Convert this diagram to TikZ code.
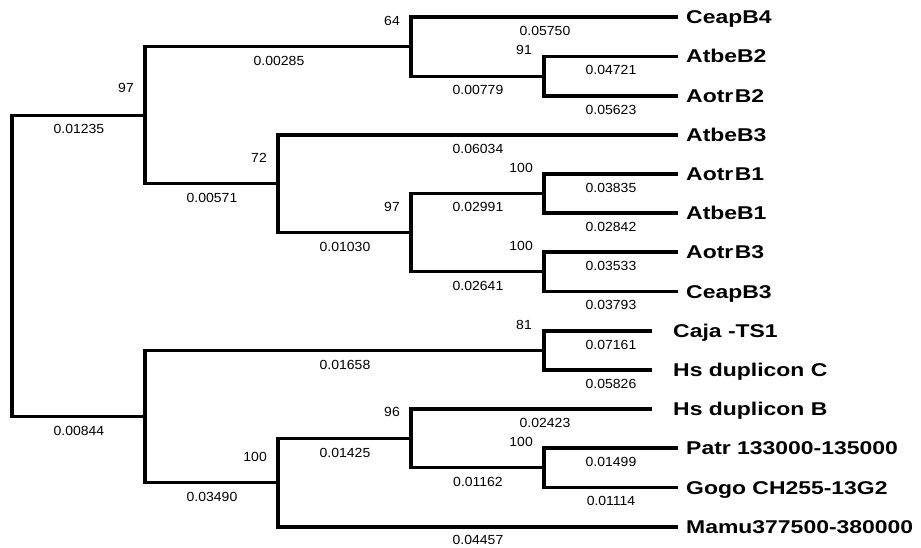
\documentclass[tikz,border=0pt]{standalone}
\usepackage{fontspec}
\setmainfont{Liberation Sans}
\newfontfamily\numfont{Liberation Sans}[FakeStretch=1.06]
\newfontfamily\leaffont{Liberation Sans Bold}[FakeStretch=1.24]
\begin{document}
\begin{tikzpicture}[x=1pt,y=-1pt,
  branch/.style={line width=3.3pt, line join=miter},
  taxon/.style={anchor=base west, inner sep=0pt, font=\leaffont\fontsize{18.5}{20}\selectfont},
  blen/.style={inner sep=0pt, font=\numfont\fontsize{13.2}{15}\selectfont},
  boot/.style={anchor=east, inner sep=0pt, font=\numfont\fontsize{13.2}{15}\selectfont}]
\fill[white] (0,0) rectangle (921,548);
\useasboundingbox (0,0) rectangle (921,548);

% ---- tips of the terminal branches
\coordinate (tCeapB4) at (678,17);
\coordinate (tAtbeB2) at (678,56.5);
\coordinate (tAotrB2) at (678,96);
\coordinate (tAtbeB3) at (678,135);
\coordinate (tAotrB1) at (678,174);
\coordinate (tAtbeB1) at (678,213);
\coordinate (tAotrB3) at (678,252);
\coordinate (tCeapB3) at (678,291.5);
\coordinate (tCaja)   at (652,331);
\coordinate (tHsC)    at (652,370);
\coordinate (tHsB)    at (652,409);
\coordinate (tPatr)   at (678,448);
\coordinate (tGogo)   at (678,487.5);
\coordinate (tMamu)   at (678,527);

% ---- internal nodes
\coordinate (nAB2)  at (544,76.25);
\coordinate (nC4)   at (411,46.6);
\coordinate (nAB1)  at (544,193.5);
\coordinate (nAB3)  at (544,271.75);
\coordinate (nB13)  at (411,232.6);
\coordinate (nB3)   at (278,183.8);
\coordinate (nTop)  at (145,115.2);
\coordinate (nCC)   at (544,350.5);
\coordinate (nPG)   at (544,467.75);
\coordinate (nHB)   at (411,438.4);
\coordinate (nMM)   at (278,482.7);
\coordinate (nBot)  at (145,416.6);
\coordinate (root)  at (12,265.9);

% ---- branches
\draw[branch] (root) |- (nTop);
\draw[branch] (root) |- (nBot);
\draw[branch] (nTop) |- (nC4);
\draw[branch] (nTop) |- (nB3);
\draw[branch] (nC4) |- (tCeapB4);
\draw[branch] (nC4) |- (nAB2);
\draw[branch] (nAB2) |- (tAtbeB2);
\draw[branch] (nAB2) |- (tAotrB2);
\draw[branch] (nB3) |- (tAtbeB3);
\draw[branch] (nB3) |- (nB13);
\draw[branch] (nB13) |- (nAB1);
\draw[branch] (nB13) |- (nAB3);
\draw[branch] (nAB1) |- (tAotrB1);
\draw[branch] (nAB1) |- (tAtbeB1);
\draw[branch] (nAB3) |- (tAotrB3);
\draw[branch] (nAB3) |- (tCeapB3);
\draw[branch] (nBot) |- (nCC);
\draw[branch] (nBot) |- (nMM);
\draw[branch] (nCC) |- (tCaja);
\draw[branch] (nCC) |- (tHsC);
\draw[branch] (nMM) |- (nHB);
\draw[branch] (nMM) |- (tMamu);
\draw[branch] (nHB) |- (tHsB);
\draw[branch] (nHB) |- (nPG);
\draw[branch] (nPG) |- (tPatr);
\draw[branch] (nPG) |- (tGogo);

% ---- taxon names
\node[taxon] (CeapB4) at (686,23.5)  {CeapB4};
\node[taxon] (AtbeB2) at (686,63)    {AtbeB2};
\node[taxon] (AotrB2) at (686,102.5) {Aotr\kern1.5pt B2};
\node[taxon] (AtbeB3) at (686,141.5) {AtbeB3};
\node[taxon] (AotrB1) at (686,180.5) {Aotr\kern1.5pt B1};
\node[taxon] (AtbeB1) at (686,219.5) {AtbeB1};
\node[taxon] (AotrB3) at (686,258.5) {Aotr\kern1.5pt B3};
\node[taxon] (CeapB3) at (686,298)   {CeapB3};
\node[taxon] (Caja)   at (673,337.5) {Caja -TS1};
\node[taxon] (HsC)    at (673,376.5) {Hs duplicon C};
\node[taxon] (HsB)    at (673,415.5) {Hs duplicon B};
\node[taxon] (Patr)   at (686,454.5) {Patr 133000-135000};
\node[taxon] (Gogo)   at (686,494)   {Gogo CH255-13G2};
\node[taxon] (Mamu)   at (686,533.5) {Mamu377500-380000};

% ---- bootstrap support
\node[boot] (bsTop) at ([shift={(-11,-27)}]nTop) {97};
\node[boot] (bsC4)  at ([shift={(-11,-26)}]nC4)  {64};
\node[boot] (bsAB2) at ([shift={(-12,-26)}]nAB2) {91};
\node[boot] (bsB3)  at ([shift={(-11,-26)}]nB3)  {72};
\node[boot] (bsB13) at ([shift={(-11,-26)}]nB13) {97};
\node[boot] (bsAB1) at ([shift={(-11,-26)}]nAB1) {100};
\node[boot] (bsAB3) at ([shift={(-11,-26)}]nAB3) {100};
\node[boot] (bsCC)  at ([shift={(-12,-26)}]nCC)  {81};
\node[boot] (bsHB)  at ([shift={(-11,-26)}]nHB)  {96};
\node[boot] (bsMM)  at ([shift={(-11,-26)}]nMM)  {100};
\node[boot] (bsPG)  at ([shift={(-11,-26)}]nPG)  {100};

% ---- branch lengths
\node[blen] (lTop)    at (79,128.5)  {0.01235};
\node[blen] (lBot)    at (79,430.5)  {0.00844};
\node[blen] (lC4)     at (279,61)    {0.00285};
\node[blen] (lB3)     at (212,198)   {0.00571};
\node[blen] (lCeapB4) at (545,31)    {0.05750};
\node[blen] (lAB2)    at (478,89.5)  {0.00779};
\node[blen] (lAtbeB2) at (611,70)    {0.04721};
\node[blen] (lAotrB2) at (611,109.5) {0.05623};
\node[blen] (lAtbeB3) at (478,148.5) {0.06034};
\node[blen] (lB13)    at (345,247)   {0.01030};
\node[blen] (lAB1)    at (478,207)   {0.02991};
\node[blen] (lAotrB1) at (611,188)   {0.03835};
\node[blen] (lAtbeB1) at (611,227)   {0.02842};
\node[blen] (lAB3)    at (478,285.5) {0.02641};
\node[blen] (lAotrB3) at (611,266)   {0.03533};
\node[blen] (lCeapB3) at (611,305)   {0.03793};
\node[blen] (lCC)     at (345,365)   {0.01658};
\node[blen] (lCaja)   at (611,344.5) {0.07161};
\node[blen] (lHsC)    at (611,384)   {0.05826};
\node[blen] (lMM)     at (212,497)   {0.03490};
\node[blen] (lHB)     at (345,452.5) {0.01425};
\node[blen] (lHsB)    at (545,423)   {0.02423};
\node[blen] (lPG)     at (478,481.5) {0.01162};
\node[blen] (lPatr)   at (611,462)   {0.01499};
\node[blen] (lGogo)   at (611,501)   {0.01114};
\node[blen] (lMamu)   at (478,540)   {0.04457};
\end{tikzpicture}
\end{document}
